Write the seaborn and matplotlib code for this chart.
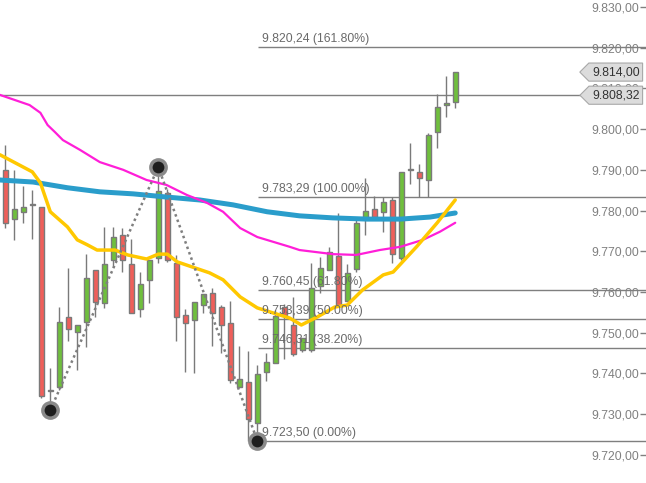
import matplotlib
matplotlib.use("Agg")
import matplotlib.pyplot as plt
import matplotlib.transforms as mtransforms
from matplotlib.path import Path
import pandas as pd
import seaborn as sns

# candles (one per index)
opens = [9790.0, 9777.9, 9779.7, 9781.4, 9780.9, 9735.7, 9736.7, 9753.9, 9750.2, 9752.7,
         9765.4, 9757.3, 9767.9, 9774.0, 9766.9, 9755.8, 9763.0, 9768.4, 9784.3, 9767.1,
         9754.4, 9753.1, 9756.8, 9759.8, 9756.3, 9752.4, 9736.7, 9737.9, 9727.9, 9740.4,
         9742.6, 9756.3, 9751.9, 9745.8, 9745.8, 9761.5, 9765.4, 9768.9, 9757.8, 9765.7,
         9778.2, 9780.4, 9779.7, 9782.6, 9768.4, 9790.0, 9789.5, 9787.5, 9799.3, 9805.9,
         9806.7]
highs = [9796.1, 9790.0, 9786.0, 9785.1, 9780.9, 9741.4, 9756.3, 9765.9, 9751.9, 9769.3,
         9765.4, 9776.0, 9776.0, 9775.7, 9773.0, 9764.9, 9767.9, 9790.7, 9785.3, 9769.1,
         9755.8, 9757.6, 9759.5, 9761.0, 9756.8, 9757.8, 9746.8, 9745.5, 9742.1, 9745.0,
         9755.6, 9757.1, 9758.8, 9748.7, 9767.1, 9768.6, 9771.1, 9779.4, 9766.9, 9777.7,
         9788.0, 9783.6, 9783.3, 9783.3, 9789.5, 9796.6, 9791.4, 9799.1, 9808.6, 9813.1,
         9814.0]
lows = [9775.7, 9772.8, 9777.0, 9773.0, 9734.0, 9731.0, 9736.0, 9748.0, 9740.9, 9746.5,
        9753.9, 9756.1, 9766.2, 9764.9, 9754.9, 9753.9, 9757.3, 9767.1, 9767.4, 9748.0,
        9740.4, 9740.1, 9754.9, 9746.8, 9745.0, 9737.7, 9736.7, 9723.5, 9723.5, 9738.2,
        9742.6, 9743.6, 9744.3, 9745.3, 9745.3, 9759.8, 9765.4, 9756.8, 9757.8, 9764.9,
        9774.0, 9777.9, 9774.8, 9767.1, 9767.9, 9786.5, 9783.3, 9783.3, 9795.4, 9803.0,
        9805.2]
closes = [9777.0, 9780.4, 9780.9, 9781.4, 9734.5, 9735.7, 9752.7, 9750.9, 9751.9, 9763.5,
          9757.6, 9766.9, 9773.5, 9767.9, 9754.9, 9762.0, 9767.9, 9784.8, 9767.9, 9753.9,
          9752.4, 9757.6, 9759.5, 9754.9, 9751.9, 9738.4, 9738.7, 9728.8, 9739.9, 9742.8,
          9754.1, 9754.4, 9744.8, 9748.7, 9761.0, 9765.9, 9769.8, 9756.8, 9764.7, 9777.0,
          9779.9, 9778.4, 9782.1, 9769.3, 9789.5, 9790.0, 9788.0, 9798.6, 9805.4, 9806.4,
          9814.0]

# moving averages, x in candle index
ma_blue_x = [-0.6, 3.1, 6.9, 10.5, 14.2, 18.0, 21.6, 25.3, 29.1, 32.7, 36.4, 40.2, 43.9, 47.2, 50.0]
ma_blue_y = [9787.5, 9787.0, 9785.6, 9784.6, 9784.1, 9783.3, 9782.6, 9781.4, 9779.7, 9778.7,
             9778.2, 9777.9, 9777.9, 9778.4, 9779.4]
ma_pink_x = [-0.6, 2.7, 3.9, 4.7, 5.5, 6.4, 8.3, 10.5, 13.1, 15.7, 17.9, 20.2, 22.4, 24.2,
             26.1, 28.0, 31.6, 32.7, 36.4, 39.0, 41.6, 43.9, 46.4, 48.3, 50.0]
ma_pink_y = [9808.4, 9805.9, 9804.0, 9801.0, 9799.3, 9797.3, 9794.9, 9791.9, 9790.0, 9787.5,
             9786.3, 9783.8, 9781.9, 9779.7, 9775.7, 9773.5, 9771.1, 9770.3, 9769.3, 9769.1,
             9770.3, 9771.1, 9772.8, 9774.8, 9777.0]
ma_gold_x = [-0.6, 3.0, 3.9, 5.0, 6.9, 8.0, 9.1, 10.2, 12.2, 13.6, 15.7, 17.0, 18.0, 19.1,
             21.1, 22.7, 24.2, 26.1, 28.0, 29.7, 31.6, 32.9, 34.7, 36.6, 38.0, 39.7, 42.0,
             43.1, 45.7, 48.0, 50.0]
ma_gold_y = [9793.7, 9789.5, 9786.8, 9779.7, 9776.0, 9772.8, 9771.6, 9770.3, 9770.3, 9769.1,
             9768.1, 9769.3, 9769.3, 9767.4, 9765.9, 9764.7, 9763.0, 9758.8, 9756.1, 9754.9,
             9753.6, 9751.9, 9753.9, 9756.3, 9756.8, 9760.5, 9764.2, 9764.9, 9771.1, 9777.0,
             9782.6]

fib_levels = [9820.24, 9783.29, 9760.45, 9753.39, 9746.31, 9723.50]
fib_labels = ["9.820,24 (161.80%)", "9.783,29 (100.00%)", "9.760,45 (61.80%)",
              "9.753,39 (50.00%)", "9.746,31 (38.20%)", "9.723,50 (0.00%)"]
zigzag_x = [5, 17, 28]
zigzag_y = [9731.0, 9790.7, 9723.5]
ref_price = 9808.32
last_price = 9814.00
y_ticks = list(range(9720, 9831, 10))


def de_num(v):
    return f"{v:,.2f}".replace(",", "#").replace(".", ",").replace("#", ".")


def price_tag(x0, y0, width, height, mutation_size):
    # box with a pointed left side
    pad = 0.25 * mutation_size
    x0, y0 = x0 - pad, y0 - pad
    width, height = width + 2 * pad, height + 2 * pad
    tip = height * 0.5
    verts = [(x0 - tip, y0 + height / 2), (x0, y0), (x0 + width, y0),
             (x0 + width, y0 + height), (x0, y0 + height), (x0 - tip, y0 + height / 2)]
    return Path(verts, closed=True)


sns.set_theme(style="white")
plt.rcParams['font.family'] = ['Liberation Sans', 'DejaVu Sans']

fig = plt.figure(figsize=(6.46, 4.83), dpi=100)
ax = fig.add_axes([0, 0, 1, 1])
x_left, x_right = -0.59, 71.2
ax.set_xlim(x_left, x_right)
ax.set_ylim(9713.1, 9831.7)

df = pd.DataFrame({"o": opens, "h": highs, "l": lows, "c": closes})
df["i"] = range(len(df))
df["bottom"] = df[["o", "c"]].min(axis=1)
df["height"] = (df["c"] - df["o"]).abs().clip(lower=0.25)
colors = ["#888888" if c == o else ("#6fbf3d" if c > o else "#ef5f5a") for o, c in zip(df.o, df.c)]

ax.vlines(df.i, df.l, df.h, color="#7a7a7a", lw=1, zorder=2)
ax.bar(df.i, df.height, bottom=df.bottom, width=0.6, color=colors,
       edgecolor="#7a7a7a", linewidth=1, zorder=3)

# fibonacci levels
ax.hlines(fib_levels, 28.1, x_right, color="#7f7f7f", lw=1, zorder=1)
for lev, lab in zip(fib_levels, fib_labels):
    ax.annotate(lab, (28.5, lev), xytext=(0, 1.5), textcoords="offset points",
                ha="left", va="bottom", fontsize=8.8, color="#6a6a6a", zorder=5)

ax.hlines(ref_price, x_left, 64.4, color="#7f7f7f", lw=1, zorder=1)

# moving averages
sns.lineplot(x=ma_blue_x, y=ma_blue_y, ax=ax, color="#2a9dcb", lw=3.6, zorder=4)
sns.lineplot(x=ma_pink_x, y=ma_pink_y, ax=ax, color="#ff1ed8", lw=1.6, zorder=4)
sns.lineplot(x=ma_gold_x, y=ma_gold_y, ax=ax, color="#ffc800", lw=2.5, zorder=4)

# zigzag
ax.plot(zigzag_x, zigzag_y, color="#7f7f7f", lw=1.8, ls=(0, (1, 1.3)), zorder=5)
ax.plot(zigzag_x, zigzag_y, ls="none", marker="o", ms=11, mfc="#1e1e1e",
        mec="#8a8a8a", mew=2.5, zorder=6)

for s in ax.spines.values():
    s.set_visible(False)
ax.set_xticks([])
ax.yaxis.tick_right()
ax.set_yticks(y_ticks)
ax.set_yticklabels([de_num(v) for v in y_ticks])
ax.tick_params(axis="y", direction="in", length=4, width=1, pad=-5, color="#808080",
               labelcolor="#808080", labelsize=8.8, right=True)
for t in ax.get_yticklabels():
    t.set_horizontalalignment("right")

# price tags on the axis
trans = mtransforms.blended_transform_factory(ax.transAxes, ax.transData)
for price in [last_price, ref_price]:
    ax.text(0.99, price, de_num(price), transform=trans, ha="right", va="center",
            fontsize=8.8, color="#333333", zorder=7,
            bbox=dict(boxstyle=price_tag, fc="#dcdcdc", ec="#a8a8a8", lw=0.8))

fig.savefig("out.png", dpi=100)
